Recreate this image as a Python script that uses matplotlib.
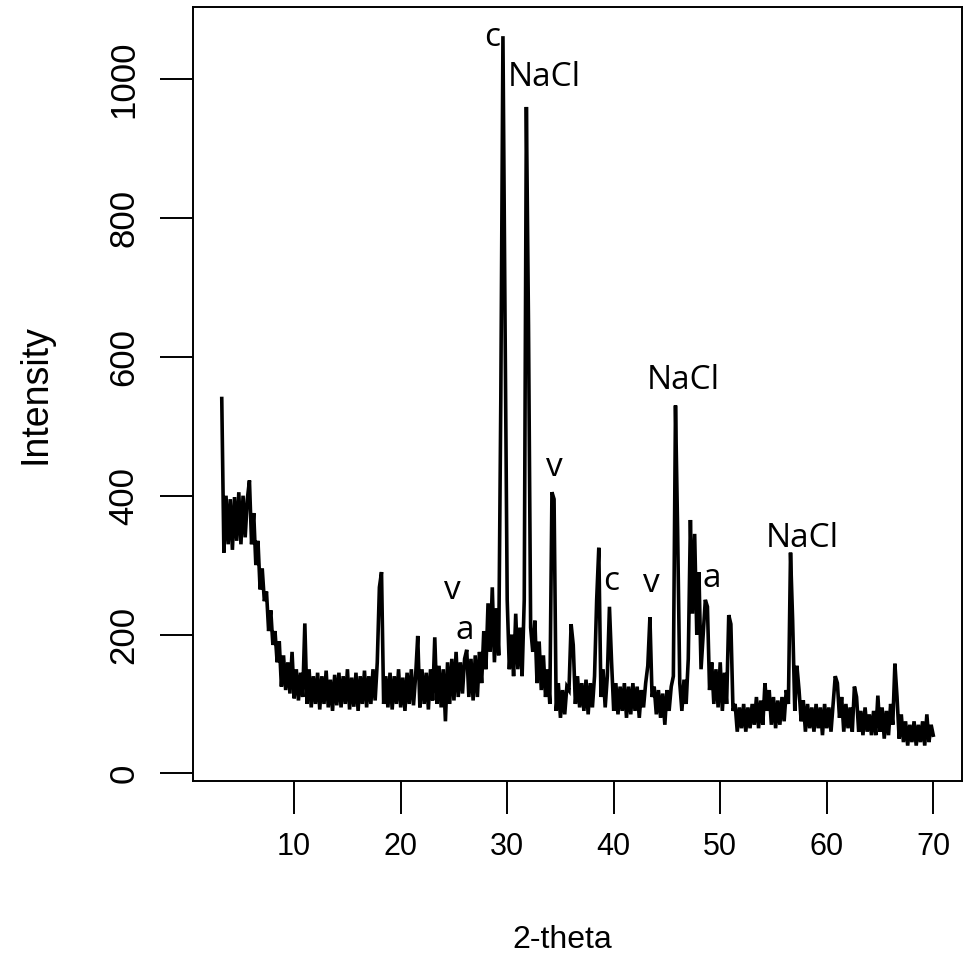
import matplotlib
matplotlib.use("Agg")
import matplotlib.pyplot as plt
import numpy as np

# XRD scan, 2-theta from 3.2 to 70.0 in 0.2 deg steps
theta_start = 3.2
theta_step = 0.2
intensity = [
    # 3.2 - 5.0
    540, 318, 400, 330, 395, 322, 398, 335, 405, 330,
    # 5.2 - 7.0
    400, 340, 395, 422, 330, 375, 300, 335, 265, 295,
    # 7.2 - 9.0
    248, 262, 205, 235, 185, 205, 160, 190, 125, 170,
    # 9.2 - 11.0
    120, 160, 115, 175, 108, 150, 105, 145, 110, 216,
    # 11.2 - 13.0
    100, 150, 95, 140, 100, 145, 92, 140, 100, 148,
    # 13.2 - 15.0
    95, 135, 90, 142, 98, 145, 95, 140, 100, 150,
    # 15.2 - 17.0
    92, 138, 96, 145, 90, 140, 100, 148, 95, 140,
    # 17.2 - 19.0
    100, 150, 105, 160, 268, 290, 100, 140, 95, 145,
    # 19.2 - 21.0
    92, 140, 100, 150, 95, 138, 90, 145, 100, 150,
    # 21.2 - 23.0
    98, 140, 198, 95, 150, 100, 145, 92, 150, 105,
    # 23.2 - 25.0
    196, 100, 155, 95, 150, 75, 160, 100, 165, 105,
    # 25.2 - 27.0
    175, 110, 160, 115, 165, 178, 110, 165, 105, 170,
    # 27.2 - 29.0
    110, 175, 130, 205, 150, 245, 175, 268, 160, 238,
    # 29.2 - 31.0
    170, 540, 1062, 645, 250, 150, 200, 140, 230, 150,
    # 31.2 - 33.0
    210, 140, 250, 960, 645, 210, 175, 220, 130, 190,
    # 33.2 - 35.0
    120, 170, 110, 150, 100, 405, 395, 90, 130, 80,
    # 35.2 - 37.0
    120, 85, 125, 120, 215, 185, 100, 140, 95, 130,
    # 37.2 - 39.0
    90, 135, 85, 130, 95, 140, 250, 325, 110, 150,
    # 39.2 - 41.0
    95, 140, 240, 160, 90, 130, 85, 125, 90, 130,
    # 41.2 - 43.0
    80, 125, 85, 130, 90, 125, 80, 120, 95, 130,
    # 43.2 - 45.0
    155, 225, 110, 125, 85, 120, 80, 115, 70, 120,
    # 45.2 - 47.0
    90, 125, 140, 530, 350, 130, 90, 135, 100, 165,
    # 47.2 - 49.0
    365, 230, 345, 200, 290, 150, 200, 250, 240, 120,
    # 49.2 - 51.0
    160, 100, 150, 95, 160, 90, 145, 100, 228, 215,
    # 51.2 - 53.0
    90, 100, 60, 95, 65, 100, 60, 95, 65, 100,
    # 53.2 - 55.0
    70, 110, 65, 105, 70, 130, 90, 120, 70, 110,
    # 55.2 - 57.0
    65, 105, 70, 110, 75, 120, 100, 318, 220, 90,
    # 57.2 - 59.0
    155, 120, 75, 105, 60, 100, 65, 95, 60, 100,
    # 59.2 - 61.0
    65, 95, 55, 100, 65, 95, 60, 100, 140, 130,
    # 61.2 - 63.0
    80, 110, 60, 100, 65, 95, 60, 125, 110, 60,
    # 63.2 - 65.0
    90, 55, 95, 60, 85, 55, 90, 55, 112, 60,
    # 65.2 - 67.0
    95, 50, 90, 55, 100, 70, 158, 110, 50, 85,
    # 67.2 - 69.0
    45, 75, 40, 70, 45, 75, 40, 70, 45, 75,
    # 69.2 - 70.0
    40, 85, 45, 70, 55,
]

# phase labels: text, 2-theta, intensity
label_text = ["c", "NaCl", "v", "v", "a", "c", "v", "NaCl", "a", "NaCl"]
label_x = [28.6, 33.5, 34.4, 24.85, 26.0, 39.8, 43.55, 46.5, 49.2, 57.7]
label_y = [1060, 1003, 441, 263, 206, 276, 273, 566, 281, 339]

x_ticks = [10, 20, 30, 40, 50, 60, 70]
y_ticks = [0, 200, 400, 600, 800, 1000]

two_theta = np.round(theta_start + theta_step * np.arange(len(intensity)), 1)

plt.rcParams['font.family'] = ['Liberation Sans', 'DejaVu Sans']

fig = plt.figure(figsize=(9.63, 9.64), dpi=100)
ax = fig.add_axes([193 / 963, 1 - 781 / 964, 769 / 963, 774 / 964])

ax.plot(two_theta, intensity, color='black', lw=2.6, solid_joinstyle='miter')

for t, xx, yy in zip(label_text, label_x, label_y):
    ax.text(xx, yy, t, ha='center', va='center', fontsize=24,
            family=['Open Sans', 'DejaVu Sans'], color='black')

ax.set_xlim(0.5, 72.7)
ax.set_ylim(-11, 1104)
ax.set_xticks(x_ticks)
ax.set_yticks(y_ticks)
ax.tick_params(direction='out', length=24, width=1.4)
ax.tick_params(axis='x', pad=13, labelsize=22)
ax.tick_params(axis='y', pad=14, labelsize=25)
for lab in ax.get_yticklabels():
    lab.set_rotation(90)
    lab.set_va('center')
for sp in ax.spines.values():
    sp.set_linewidth(1.4)

ax.set_xlabel('2-theta', fontsize=23)
ax.set_ylabel('Intensity', fontsize=27)
ax.xaxis.set_label_coords(0.48, -0.205)
ax.xaxis.label.set_va('center')
ax.yaxis.set_label_coords(-0.205, 0.5)
ax.yaxis.label.set_va('center')

fig.savefig('out.png', dpi=100)
